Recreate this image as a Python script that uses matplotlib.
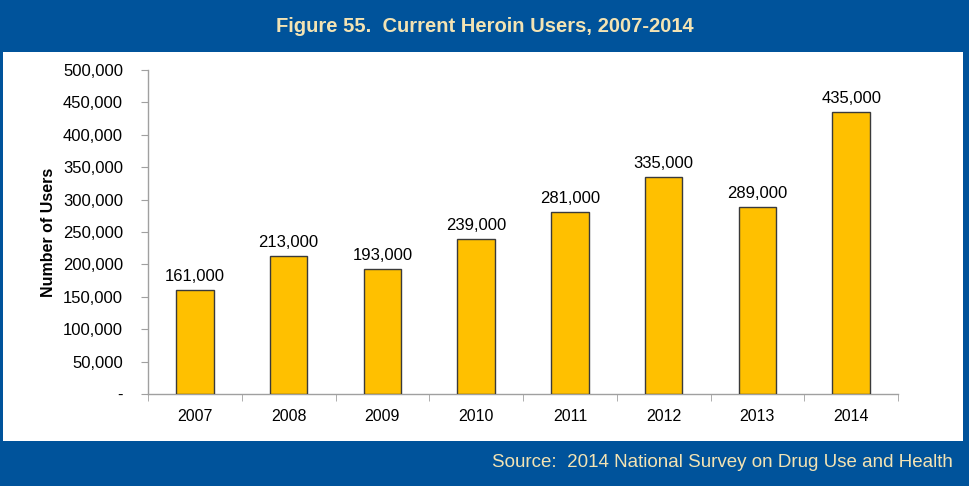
import numpy as np
import matplotlib.pyplot as plt
from matplotlib.patches import Rectangle
from matplotlib.ticker import FuncFormatter

# Current heroin users by year
years = ["2007", "2008", "2009", "2010", "2011", "2012", "2013", "2014"]
users = [161000, 213000, 193000, 239000, 281000, 335000, 289000, 435000]

blue = "#00539B"
cream = "#F3E3B3"
gold = "#FFC000"
font = "Liberation Sans"

fig = plt.figure(figsize=(9.69, 4.86), dpi=100)
fig.patch.set_facecolor("white")

# Blue frame: title band, footer band and thin side borders
def band(x0, y0, w, h):
    fig.add_artist(Rectangle((x0 / 969, 1 - (y0 + h) / 486), w / 969, h / 486,
                             transform=fig.transFigure, facecolor=blue,
                             edgecolor="none", zorder=0))

band(0, 0, 969, 52)
band(0, 441, 969, 45)
band(0, 0, 3, 486)
band(963, 0, 6, 486)

fig.text(0.5, 1 - 26 / 486, "Figure 55.  Current Heroin Users, 2007-2014",
         ha="center", va="center", color=cream, fontsize=14.5, fontweight="bold",
         family=font)
fig.text(953 / 969, 1 - 462 / 486, "Source:  2014 National Survey on Drug Use and Health",
         ha="right", va="center", color=cream, fontsize=13.5, family=font)

# Axes placement in pixel terms
left, right, top, bottom = 148, 898, 70, 394
ax = fig.add_axes([left / 969, 1 - bottom / 486, (right - left) / 969, (bottom - top) / 486])

x = np.arange(len(years))
ax.bar(x, users, width=0.4, color=gold, edgecolor="#3a3a3a", linewidth=1.0, zorder=3)

for xi, v in zip(x, users):
    ax.text(xi, v + 9000, f"{v:,}", ha="center", va="bottom", fontsize=12,
            family=font, color="black")

ax.set_xlim(-0.5, len(years) - 0.5)
ax.set_ylim(0, 500000)
ax.set_yticks(np.arange(0, 500001, 50000))
ax.yaxis.set_major_formatter(FuncFormatter(lambda v, p: "-" if v == 0 else f"{int(v):,}"))
ax.set_xticks(x)
ax.set_xticklabels(years)
ax.set_xticks(np.arange(-0.5, len(years), 1), minor=True)
ax.tick_params(axis="x", which="major", length=0, pad=11, labelsize=11.5)
ax.tick_params(axis="x", which="minor", length=5, color="#a0a0a0", direction="out")
ax.tick_params(axis="y", length=5, color="#a0a0a0", direction="out", pad=13, labelsize=12)
for lbl in ax.get_xticklabels() + ax.get_yticklabels():
    lbl.set_family(font)

for s in ["top", "right"]:
    ax.spines[s].set_visible(False)
for s in ["left", "bottom"]:
    ax.spines[s].set_color("#a0a0a0")
    ax.spines[s].set_linewidth(1.0)

ax.set_ylabel("Number of Users", fontsize=11.5, fontweight="bold",
              family=font, labelpad=5)

fig.savefig("out.png", dpi=100, facecolor=fig.get_facecolor())
